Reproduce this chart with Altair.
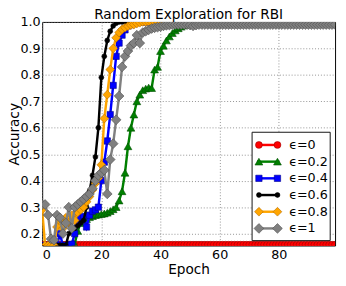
import altair as alt
import pandas as pd

epochs = list(range(100))

series = ["ϵ=0", "ϵ=0.2", "ϵ=0.4", "ϵ=0.6", "ϵ=0.8", "ϵ=1"]
colors = ["#ff0000", "#008000", "#0000ff", "#000000", "#ffa500", "#808080"]
edges = ["#990000", "#004d00", "#00008b", "#000000", "#b36b00", "#4d4d4d"]
shapes = ["circle", "triangle-up", "square", "circle", "diamond", "diamond"]
sizes = [49, 64, 42, 25, 80, 100]

acc_e0 = [
    0.158, 0.158, 0.158, 0.158, 0.158, 0.158, 0.158, 0.158, 0.158, 0.158,
    0.158, 0.158, 0.158, 0.158, 0.158, 0.158, 0.158, 0.158, 0.158, 0.158,
    0.158, 0.158, 0.158, 0.158, 0.158, 0.158, 0.158, 0.158, 0.158, 0.158,
    0.158, 0.158, 0.158, 0.158, 0.158, 0.158, 0.158, 0.158, 0.158, 0.158,
    0.158, 0.158, 0.158, 0.158, 0.158, 0.158, 0.158, 0.158, 0.158, 0.158,
    0.158, 0.158, 0.158, 0.158, 0.158, 0.158, 0.158, 0.158, 0.158, 0.158,
    0.158, 0.158, 0.158, 0.158, 0.158, 0.158, 0.158, 0.158, 0.158, 0.158,
    0.158, 0.158, 0.158, 0.158, 0.158, 0.158, 0.158, 0.158, 0.158, 0.158,
    0.158, 0.158, 0.158, 0.158, 0.158, 0.158, 0.158, 0.158, 0.158, 0.158,
    0.158, 0.158, 0.158, 0.158, 0.158, 0.158, 0.158, 0.158, 0.158, 0.158,
]
acc_e02 = [
    0.155, 0.155, 0.155, 0.155, 0.155, 0.155, 0.155, 0.155, 0.155, 0.155,
    0.155, 0.16, 0.21, 0.24, 0.25, 0.255, 0.262, 0.266, 0.27, 0.272,
    0.274, 0.276, 0.279, 0.285, 0.292, 0.30, 0.325, 0.36, 0.43, 0.53,
    0.60, 0.65, 0.70, 0.725, 0.742, 0.748, 0.752, 0.75, 0.82, 0.83,
    0.89, 0.91, 0.93, 0.945, 0.958, 0.968, 0.976, 0.982, 0.987, 0.99,
    0.995, 0.995, 0.995, 0.995, 0.995, 0.995, 0.995, 0.995, 0.995, 0.995,
    1.0, 1.0, 1.0, 1.0, 1.0, 1.0, 1.0, 1.0, 1.0, 1.0,
    1.0, 1.0, 1.0, 1.0, 1.0, 1.0, 1.0, 1.0, 1.0, 1.0,
    1.0, 1.0, 1.0, 1.0, 1.0, 1.0, 1.0, 1.0, 1.0, 1.0,
    1.0, 1.0, 1.0, 1.0, 1.0, 1.0, 1.0, 1.0, 1.0, 1.0,
]
acc_e04 = [
    0.155, 0.155, 0.155, 0.155, 0.155, 0.155, 0.20, 0.155, 0.155, 0.155,
    0.16, 0.20, 0.24, 0.26, 0.265, 0.225, 0.27, 0.285, 0.29, 0.30,
    0.40, 0.47, 0.55, 0.65, 0.76, 0.87, 0.92, 0.95, 0.97, 0.985,
    0.99, 0.995, 1.0, 1.0, 1.0, 1.0, 1.0, 1.0, 1.0, 1.0,
    1.0, 1.0, 1.0, 1.0, 1.0, 1.0, 1.0, 1.0, 1.0, 1.0,
    1.0, 1.0, 1.0, 1.0, 1.0, 1.0, 1.0, 1.0, 1.0, 1.0,
    1.0, 1.0, 1.0, 1.0, 1.0, 1.0, 1.0, 1.0, 1.0, 1.0,
    1.0, 1.0, 1.0, 1.0, 1.0, 1.0, 1.0, 1.0, 1.0, 1.0,
    1.0, 1.0, 1.0, 1.0, 1.0, 1.0, 1.0, 1.0, 1.0, 1.0,
    1.0, 1.0, 1.0, 1.0, 1.0, 1.0, 1.0, 1.0, 1.0, 1.0,
]
acc_e06 = [
    0.155, 0.155, 0.155, 0.155, 0.155, 0.155, 0.155, 0.155, 0.155, 0.20,
    0.215, 0.22, 0.23, 0.24, 0.25, 0.30, 0.36, 0.42, 0.49, 0.60,
    0.79, 0.87, 0.93, 0.965, 0.985, 0.995, 1.0, 1.0, 1.0, 1.0,
    1.0, 1.0, 1.0, 1.0, 1.0, 1.0, 1.0, 1.0, 1.0, 1.0,
    1.0, 1.0, 1.0, 1.0, 1.0, 1.0, 1.0, 1.0, 1.0, 1.0,
    1.0, 1.0, 1.0, 1.0, 1.0, 1.0, 1.0, 1.0, 1.0, 1.0,
    1.0, 1.0, 1.0, 1.0, 1.0, 1.0, 1.0, 1.0, 1.0, 1.0,
    1.0, 1.0, 1.0, 1.0, 1.0, 1.0, 1.0, 1.0, 1.0, 1.0,
    1.0, 1.0, 1.0, 1.0, 1.0, 1.0, 1.0, 1.0, 1.0, 1.0,
    1.0, 1.0, 1.0, 1.0, 1.0, 1.0, 1.0, 1.0, 1.0, 1.0,
]
acc_e08 = [
    0.29, 0.155, 0.155, 0.155, 0.155, 0.225, 0.25, 0.22, 0.26, 0.24,
    0.27, 0.25, 0.28, 0.29, 0.30, 0.32, 0.34, 0.365, 0.39, 0.41,
    0.46, 0.635, 0.725, 0.82, 0.90, 0.94, 0.96, 0.972, 0.978, 0.984,
    0.988, 0.99, 0.994, 0.997, 1.0, 1.0, 1.0, 1.0, 1.0, 1.0,
    1.0, 1.0, 1.0, 1.0, 1.0, 1.0, 1.0, 1.0, 1.0, 1.0,
    1.0, 1.0, 1.0, 1.0, 1.0, 1.0, 1.0, 1.0, 1.0, 1.0,
    1.0, 1.0, 1.0, 1.0, 1.0, 1.0, 1.0, 1.0, 1.0, 1.0,
    1.0, 1.0, 1.0, 1.0, 1.0, 1.0, 1.0, 1.0, 1.0, 1.0,
    1.0, 1.0, 1.0, 1.0, 1.0, 1.0, 1.0, 1.0, 1.0, 1.0,
    1.0, 1.0, 1.0, 1.0, 1.0, 1.0, 1.0, 1.0, 1.0, 1.0,
]
acc_e1 = [
    0.31, 0.31, 0.27, 0.18, 0.175, 0.27, 0.26, 0.20, 0.24, 0.30,
    0.22, 0.30, 0.31, 0.32, 0.33, 0.34, 0.35, 0.37, 0.40, 0.42,
    0.43, 0.44, 0.35, 0.48, 0.54, 0.63, 0.72, 0.83, 0.87, 0.89,
    0.91, 0.92, 0.95, 0.92, 0.96, 0.965, 0.97, 0.975, 0.978, 0.98,
    0.982, 0.985, 0.987, 0.988, 0.99, 0.99, 0.99, 0.99, 0.99, 0.99,
    0.988, 0.985, 0.988, 0.99, 0.99, 0.99, 0.99, 0.99, 0.99, 0.99,
    0.99, 0.99, 0.99, 0.99, 0.99, 0.99, 0.99, 0.99, 0.99, 0.99,
    0.99, 0.99, 0.99, 0.99, 0.99, 0.99, 0.99, 0.99, 0.99, 0.99,
    0.99, 0.99, 0.99, 0.99, 0.99, 0.99, 0.99, 0.99, 0.99, 0.99,
    0.99, 0.99, 0.99, 0.99, 0.99, 0.99, 0.99, 0.99, 0.99, 0.99,
]
all_acc = [acc_e0, acc_e02, acc_e04, acc_e06, acc_e08, acc_e1]

FONT = "DejaVu Sans"

x_enc = alt.X(
    "epoch:Q",
    scale=alt.Scale(domain=[0, 99], nice=False, zero=False),
    axis=alt.Axis(title="Epoch", values=[0, 20, 40, 60, 80], format="d"),
)
y_enc = alt.Y(
    "acc:Q",
    scale=alt.Scale(domain=[0.155, 1.0], nice=False, zero=False),
    axis=alt.Axis(title="Accuracy", values=[0.2, 0.3, 0.4, 0.5, 0.6, 0.7, 0.8, 0.9, 1.0], format=".1f"),
)

layers = []
for name, col, edge, shp, sz, vals in zip(series, colors, edges, shapes, sizes, all_acc):
    d = pd.DataFrame({"epoch": epochs, "acc": vals, "series": name})
    layers.append(
        alt.Chart(d).mark_line(color=col, strokeWidth=2.5, clip=True).encode(x=x_enc, y=y_enc)
    )
    layers.append(
        alt.Chart(d)
        .mark_point(shape=shp, size=sz, filled=True, fill=col, stroke=edge,
                    strokeWidth=0.6, opacity=1, clip=True)
        .encode(x=x_enc, y=y_enc)
    )

# ---- legend box (layout in plot-area pixels) ----
LEG_LEFT, LEG_RIGHT, LEG_TOP, LEG_BOTTOM = 215, 295, 113, 224
ROW0, PITCH = 126, 17.1
LINE_X0, LINE_X1 = 220, 243
MARK_X = (222, 241)
TEXT_X = 253

box_df = pd.DataFrame({"k": [0]})
layers.append(
    alt.Chart(box_df)
    .mark_rect(fill="white", stroke="#111111", strokeWidth=1)
    .encode(x=alt.value(LEG_LEFT), x2=alt.value(LEG_RIGHT),
            y=alt.value(LEG_TOP), y2=alt.value(LEG_BOTTOM))
)
for i, (name, col, edge, shp, sz) in enumerate(zip(series, colors, edges, shapes, sizes)):
    yy = ROW0 + i * PITCH
    ldf = pd.DataFrame({"label": [name]})
    layers.append(
        alt.Chart(ldf).mark_rule(color=col, strokeWidth=2.5)
        .encode(x=alt.value(LINE_X0), x2=alt.value(LINE_X1), y=alt.value(yy))
    )
    for mx in MARK_X:
        layers.append(
            alt.Chart(ldf)
            .mark_point(shape=shp, size=sz, filled=True, fill=col, stroke=edge,
                        strokeWidth=0.6, opacity=1)
            .encode(x=alt.value(mx), y=alt.value(yy))
        )
    layers.append(
        alt.Chart(ldf)
        .mark_text(align="left", baseline="middle", font=FONT, fontSize=13, color="black")
        .encode(x=alt.value(TEXT_X), y=alt.value(yy), text="label:N")
    )

chart = (
    alt.layer(*layers)
    .properties(
        width=300,
        height=229,
        title=alt.Title("Random Exploration for RBI", font=FONT, fontSize=14,
                        fontWeight="normal", color="black", offset=-6, anchor="middle",
                        frame="group"),
        autosize="none",
        padding={"left": 35, "top": 11, "right": 3, "bottom": 30},
    )
    .configure_view(stroke="black", strokeWidth=1)
    .configure_axis(
        domain=False,
        ticks=False,
        grid=True,
        gridColor="#777777",
        gridDash=[1, 2],
        gridWidth=0.8,
        labelFont=FONT,
        labelFontSize=13,
        labelColor="black",
        titleFont=FONT,
        titleFontSize=14,
        titleFontWeight="normal",
        titleColor="black",
    )
    .configure_axisX(labelPadding=3, titlePadding=2)
    .configure_axisY(labelPadding=2, titlePadding=-1)
)

chart.save("out.html", embed_options={"renderer": "svg", "actions": False})
